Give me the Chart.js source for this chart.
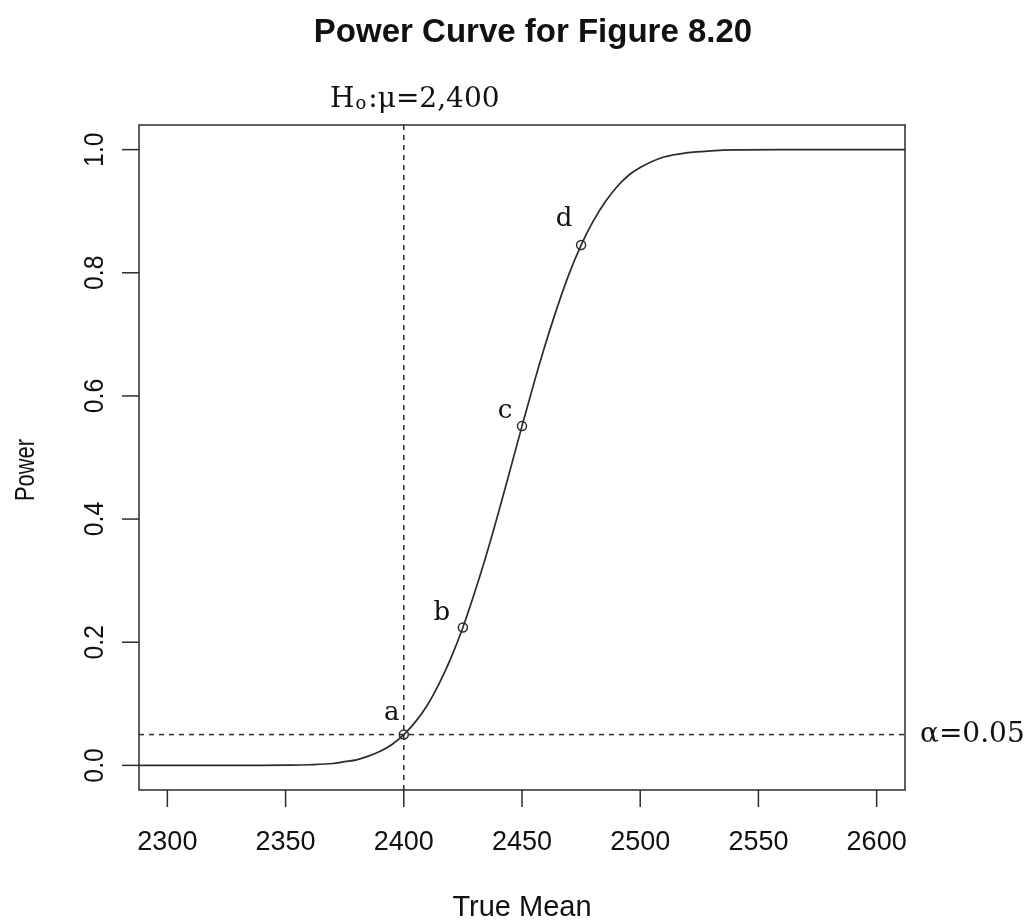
<!DOCTYPE html>
<html>
<head>
<meta charset="utf-8">
<script src="https://cdn.jsdelivr.net/npm/chart.js@4/dist/chart.umd.min.js"></script>
<style>
  html, body { margin: 0; padding: 0; background: #fff; }
  #wrap { width: 1031px; height: 924px; }
</style>
</head>
<body>
<div id="wrap"><canvas id="chart1" width="1031" height="924"></canvas></div>
<script>
// valeurs
const trueMean = [2288, 2300, 2320, 2340, 2350, 2360, 2370, 2375, 2380, 2385, 2390, 2395,
    2400, 2405, 2410, 2415, 2420, 2425, 2430, 2435, 2440, 2445, 2450, 2455, 2460, 2465,
    2470, 2475, 2480, 2485, 2490, 2495, 2500, 2510, 2520, 2530, 2540, 2560, 2580, 2600, 2612];
const power = [0, 0, 0, 0, 0.0003, 0.001, 0.003, 0.006, 0.009, 0.015, 0.023, 0.034,
    0.05, 0.071, 0.098, 0.133, 0.175, 0.224, 0.281, 0.343, 0.41, 0.48, 0.551, 0.62, 0.685, 0.745,
    0.799, 0.845, 0.883, 0.914, 0.939, 0.958, 0.971, 0.988, 0.995, 0.998, 0.9995, 1, 1, 1, 1];

// points marqués a, b, c, d
const markMean = [2400, 2425, 2450, 2475];
const markPower = [0.05, 0.224, 0.551, 0.845];
const markLabels = ['a', 'b', 'c', 'd'];

const xTicks = [2300, 2350, 2400, 2450, 2500, 2550, 2600];
const yTicks = [0, 0.2, 0.4, 0.6, 0.8, 1.0];
const yTickLabels = ['0.0', '0.2', '0.4', '0.6', '0.8', '1.0'];

const nullMean = 2400;
const alpha = 0.05;
const xRange = [2288, 2612];
const yRange = [-0.04, 1.04];

const labelOffsets = [[-12, -21], [-21, -14], [-17, -15], [-17, -26]];
const ink = '#2b2b2b';
const sans = '"Liberation Sans", Arial, sans-serif';
const serif = '"DejaVu Serif", "Liberation Serif", serif';

const decorPlugin = {
    id: 'decor',
    afterDraw(chart) {
        const ctx = chart.ctx;
        const xs = chart.scales.x;
        const ys = chart.scales.y;
        const area = chart.chartArea;
        ctx.save();
        ctx.strokeStyle = ink;
        ctx.fillStyle = '#111';
        ctx.lineWidth = 1.5;

        // cadre
        ctx.strokeRect(area.left, area.top, area.right - area.left, area.bottom - area.top);

        // axe x
        ctx.font = '27px ' + sans;
        ctx.textAlign = 'center';
        ctx.textBaseline = 'middle';
        xTicks.forEach(t => {
            const px = xs.getPixelForValue(t);
            ctx.beginPath();
            ctx.moveTo(px, area.bottom);
            ctx.lineTo(px, area.bottom + 17);
            ctx.stroke();
            ctx.fillText(String(t), px, 843);
        });

        // axe y
        yTicks.forEach((t, i) => {
            const py = ys.getPixelForValue(t);
            ctx.beginPath();
            ctx.moveTo(area.left, py);
            ctx.lineTo(area.left - 17, py);
            ctx.stroke();
            ctx.save();
            ctx.translate(96, py);
            ctx.rotate(-Math.PI / 2);
            ctx.scale(0.92, 1);
            ctx.font = '27px ' + sans;
            ctx.fillText(yTickLabels[i], 0, 0);
            ctx.restore();
        });

        // titres
        ctx.font = 'bold 33px ' + sans;
        ctx.textBaseline = 'alphabetic';
        ctx.fillText('Power Curve for Figure 8.20', 533, 42);

        ctx.font = '29px ' + sans;
        ctx.textBaseline = 'middle';
        ctx.fillText('True Mean', (area.left + area.right) / 2, 908);

        ctx.save();
        ctx.translate(26, 470);
        ctx.rotate(-Math.PI / 2);
        ctx.scale(0.78, 1);
        ctx.font = '28px ' + sans;
        ctx.fillText('Power', 0, 0);
        ctx.restore();

        // H0 : mu = 2,400
        ctx.textAlign = 'left';
        ctx.textBaseline = 'alphabetic';
        let hx = 330;
        const hy = 107;
        ctx.font = '28px ' + serif;
        ctx.fillText('H', hx, hy);
        hx += ctx.measureText('H').width + 1;
        ctx.font = '18px ' + serif;
        ctx.fillText('o', hx, hy + 2);
        hx += ctx.measureText('o').width + 2;
        ctx.font = '28px ' + serif;
        ctx.fillText(':\u03bc=2,400', hx, hy);

        // alpha
        ctx.textBaseline = 'middle';
        ctx.font = '28px ' + serif;
        ctx.fillText('\u03b1=0.05', 920, ys.getPixelForValue(alpha));

        // lettres a-d
        ctx.textAlign = 'center';
        ctx.font = '26px ' + serif;
        markLabels.forEach((lab, i) => {
            const px = xs.getPixelForValue(markMean[i]) + labelOffsets[i][0];
            const py = ys.getPixelForValue(markPower[i]) + labelOffsets[i][1];
            ctx.fillText(lab, px, py);
        });
        ctx.restore();
    }
};

const ctx = document.getElementById('chart1').getContext('2d');
new Chart(ctx, {
    type: 'line',
    data: {
        datasets: [
            {
                data: trueMean.map((m, i) => ({ x: m, y: power[i] })),
                borderColor: ink,
                borderWidth: 1.7,
                pointRadius: 0,
                cubicInterpolationMode: 'monotone',
                fill: false
            },
            {
                data: xRange.map(m => ({ x: m, y: alpha })),
                borderColor: ink,
                borderWidth: 1.5,
                borderDash: [5, 5],
                pointRadius: 0,
                fill: false
            },
            {
                data: yRange.map(p => ({ x: nullMean, y: p })),
                borderColor: ink,
                borderWidth: 1.5,
                borderDash: [5, 5],
                pointRadius: 0,
                fill: false
            },
            {
                data: markMean.map((m, i) => ({ x: m, y: markPower[i] })),
                showLine: false,
                pointRadius: 4.5,
                pointBorderWidth: 1.5,
                pointBorderColor: ink,
                pointBackgroundColor: 'rgba(255,255,255,0)',
                pointStyle: 'circle'
            }
        ]
    },
    options: {
        responsive: false,
        animation: false,
        devicePixelRatio: 1,
        layout: { padding: { left: 139, right: 126, top: 125, bottom: 134 } },
        plugins: {
            legend: { display: false },
            title: { display: false },
            tooltip: { enabled: false }
        },
        scales: {
            x: { type: 'linear', min: xRange[0], max: xRange[1], display: false },
            y: { type: 'linear', min: yRange[0], max: yRange[1], display: false }
        }
    },
    plugins: [decorPlugin]
});
</script>
</body>
</html>
